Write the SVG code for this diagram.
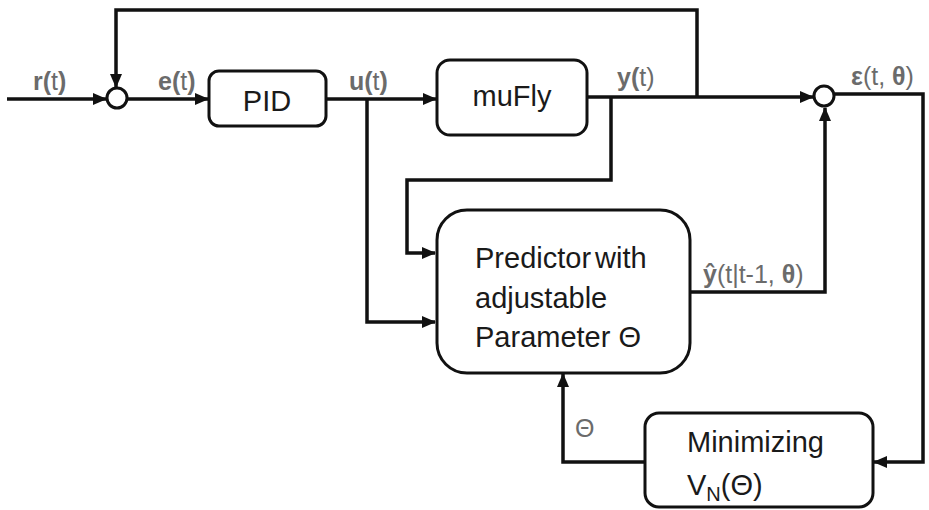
<svg xmlns="http://www.w3.org/2000/svg" width="929" height="510" viewBox="0 0 929 510">
<style>
.box{fill:#fff;stroke:#111;stroke-width:3}
.ln{fill:none;stroke:#111;stroke-width:3.5;stroke-linejoin:miter}
.t{font-family:"Liberation Sans",Arial,sans-serif;font-size:29px;fill:#1a1a1a}
.lb{font-family:"Liberation Sans",Arial,sans-serif;font-size:25px;fill:#6b6b6b}
.b{font-weight:bold}
</style>
<defs>
<marker id="ah" markerUnits="userSpaceOnUse" markerWidth="14" markerHeight="12" refX="13" refY="6" orient="auto">
<path d="M0,0 L14,6 L0,12 Z" fill="#111"/>
</marker>
</defs>
<g id="connectors">
<path class="ln" d="M7,99 H106" marker-end="url(#ah)"/>
<path class="ln" d="M697,97 V10 H116 V87" marker-end="url(#ah)"/>
<path class="ln" d="M127,99 H208" marker-end="url(#ah)"/>
<path class="ln" d="M326,99 H436" marker-end="url(#ah)"/>
<path class="ln" d="M367,99 V322 H435" marker-end="url(#ah)"/>
<path class="ln" d="M587,97 H813" marker-end="url(#ah)"/>
<path class="ln" d="M611,97 V180 H407 V253 H435" marker-end="url(#ah)"/>
<path class="ln" d="M690,292 H825 V108" marker-end="url(#ah)"/>
<path class="ln" d="M835,94 H923 V462 H874" marker-end="url(#ah)"/>
<path class="ln" d="M645,462 H563 V374" marker-end="url(#ah)"/>
</g>
<g id="sum1"><circle cx="117" cy="98" r="10" class="box"/></g>
<g id="sum2"><circle cx="824" cy="96" r="10" class="box"/></g>
<g id="pid">
<rect class="box" x="209" y="71" width="117" height="55" rx="10"/>
<text class="t" x="267" y="111" text-anchor="middle">PID</text>
</g>
<g id="mufly">
<rect class="box" x="437" y="60" width="150" height="75" rx="13"/>
<text class="t" x="512" y="106" text-anchor="middle">muFly</text>
</g>
<g id="predictor">
<rect class="box" x="437" y="210" width="253" height="163" rx="30"/>
<text class="t" x="475" y="268" word-spacing="-4">Predictor with</text>
<text class="t" x="475" y="308">adjustable</text>
<text class="t" x="475" y="347">Parameter Θ</text>
</g>
<g id="minimizing">
<rect class="box" x="645" y="413" width="228" height="94" rx="14"/>
<text class="t" x="687" y="452">Minimizing</text>
<text class="t" x="687" y="495">V<tspan font-size="20" dy="6">N</tspan><tspan dy="-6">(Θ)</tspan></text>
</g>
<g id="labels">
<text class="lb" x="33" y="90"><tspan class="b">r(</tspan>t<tspan class="b">)</tspan></text>
<text class="lb" x="158" y="90"><tspan class="b">e(</tspan>t<tspan class="b">)</tspan></text>
<text class="lb" x="349" y="90"><tspan class="b">u(</tspan>t<tspan class="b">)</tspan></text>
<text class="lb" x="617" y="86"><tspan class="b">y(</tspan>t)</text>
<text class="lb" x="851" y="85"><tspan class="b">ε</tspan>(t, <tspan class="b">θ</tspan>)</text>
<text class="lb" x="703" y="283"><tspan class="b">ŷ</tspan>(t|t-1,  <tspan class="b">θ</tspan>)</text>
<text class="lb" x="575" y="437" font-size="19">Θ</text>
</g>
</svg>
